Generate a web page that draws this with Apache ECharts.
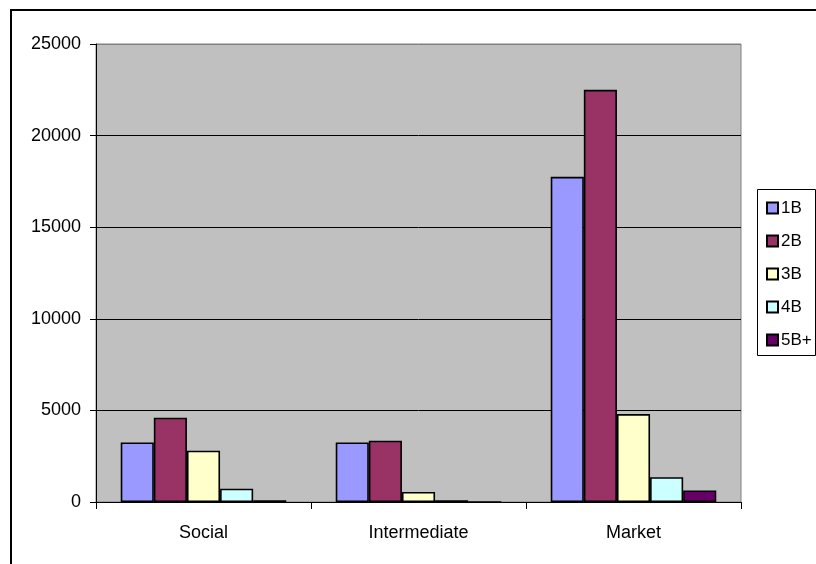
<!DOCTYPE html>
<html>
<head>
<meta charset="utf-8">
<script src="https://cdn.jsdelivr.net/npm/echarts@6/dist/echarts.min.js"></script>
<style>
  html, body { margin: 0; padding: 0; background: #ffffff; }
  #chart { width: 816px; height: 564px; }
</style>
</head>
<body>
<div id="chart"></div>
<script>
// Dwelling counts by tenure type and bedroom size
const categories = ['Social', 'Intermediate', 'Market'];
const seriesNames = ['1B', '2B', '3B', '4B', '5B+'];
const oneBed   = [3250, 3250, 17750];
const twoBed   = [4600, 3350, 22500];
const threeBed = [2800, 550, 4800];
const fourBed  = [730, 100, 1350];
const fivePlus = [100, 0, 630];
const yTicks = [0, 5000, 10000, 15000, 20000, 25000];

const colors = ['#9999FF', '#993366', '#FFFFCC', '#CCFFFF', '#660066'];
const values = [oneBed, twoBed, threeBed, fourBed, fivePlus];
const font = '"Liberation Sans", Arial, sans-serif';

const chart = echarts.init(document.getElementById('chart'), null, { renderer: 'canvas' });

chart.setOption({
  animation: false,
  backgroundColor: '#ffffff',
  textStyle: { fontFamily: font },
  grid: {
    left: 96, top: 44, right: 75, bottom: 62,
    show: true, backgroundColor: '#C0C0C0', borderColor: '#808080', borderWidth: 1
  },
  graphic: [
    { type: 'rect', z: 100, silent: true,
      shape: { x: 11, y: 10, width: 900, height: 700 },
      style: { fill: 'none', stroke: '#000', lineWidth: 2 } },
    { type: 'rect', z: 100, silent: true,
      shape: { x: 757.5, y: 189.5, width: 58, height: 166 },
      style: { fill: '#fff', stroke: '#000', lineWidth: 1 } }
  ],
  legend: {
    orient: 'vertical',
    left: 766, top: 199,
    padding: 0,
    itemWidth: 11, itemHeight: 11, itemGap: 15,
    icon: 'rect',
    z: 200,
    textStyle: { fontFamily: font, fontSize: 17, lineHeight: 18, color: '#000', padding: [0, 0, 0, -2] },
    data: seriesNames
  },
  xAxis: {
    type: 'category',
    data: categories,
    axisLine: { lineStyle: { color: '#000', width: 1 } },
    axisTick: { show: true, length: 7, lineStyle: { color: '#000' } },
    axisLabel: { color: '#000', fontSize: 18, margin: 22, fontFamily: font },
    splitLine: { show: false }
  },
  yAxis: {
    type: 'value',
    min: yTicks[0], max: yTicks[yTicks.length - 1], interval: 5000,
    axisLine: { show: true, lineStyle: { color: '#000', width: 1 } },
    axisTick: { show: true, length: 6, lineStyle: { color: '#000' } },
    axisLabel: { color: '#000', fontSize: 18, margin: 15, fontFamily: font,
                 formatter: v => String(v) },
    splitLine: { show: true, lineStyle: { color: ['#000', '#000', '#000', '#000', '#000', '#808080'], width: 1 } }
  },
  series: seriesNames.map((name, i) => ({
    name: name,
    type: 'bar',
    data: values[i],
    barGap: '0%',
    barCategoryGap: '23%',
    itemStyle: { color: colors[i], borderColor: '#000', borderWidth: 1.6 }
  }))
});
</script>
</body>
</html>
